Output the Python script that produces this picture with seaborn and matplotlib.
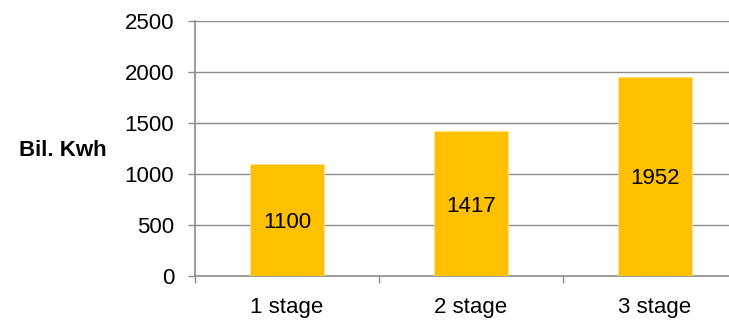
import matplotlib
matplotlib.use("Agg")
import matplotlib.pyplot as plt
import seaborn as sns
import pandas as pd
from matplotlib.ticker import FixedLocator

stages = ["1 stage", "2 stage", "3 stage"]
energy = [1100, 1417, 1952]
y_ticks = [0, 500, 1000, 1500, 2000, 2500]

sns.set_theme(style="white")
plt.rcParams["font.family"] = ["Liberation Sans", "DejaVu Sans"]

df = pd.DataFrame({"stage": stages, "energy": energy})

W, H = 729, 323
fig = plt.figure(figsize=(W / 100, H / 100), dpi=100)
# plot area runs slightly past the right edge of the canvas
left, right, top, bottom = 195, 747, 21, 276
ax = fig.add_axes([left / W, 1 - bottom / H, (right - left) / W, (bottom - top) / H])

grid_col = "#8c8c8c"
fs = 16
sns.barplot(data=df, x="stage", y="energy", color="#FFC000", width=0.4,
            saturation=1, edgecolor="#FFE08A", linewidth=0.6, ax=ax, zorder=3)

ax.set_xlim(-0.5, 2.5)
ax.set_ylim(0, 2500)
ax.set_yticks(y_ticks)
ax.yaxis.grid(True, color=grid_col, linewidth=1.0, zorder=0)
ax.set_axisbelow(True)

for s in ["top", "right"]:
    ax.spines[s].set_visible(False)
for s in ["left", "bottom"]:
    ax.spines[s].set_color(grid_col)
    ax.spines[s].set_linewidth(1.2)

ax.tick_params(axis="y", which="major", length=5, width=1, color=grid_col,
               labelsize=fs, pad=10, labelcolor="black", left=True)
ax.tick_params(axis="x", which="major", length=0, labelsize=fs, pad=15,
               labelcolor="black")
ax.xaxis.set_minor_locator(FixedLocator([-0.5, 0.5, 1.5, 2.5]))
ax.tick_params(axis="x", which="minor", length=5, width=1, color=grid_col,
               bottom=True)

ax.set_xlabel("")
ax.set_ylabel("Bil. Kwh", rotation=0, fontsize=fs, fontweight="bold",
              ha="center", va="center", color="black")
ax.yaxis.set_label_coords(-0.239, 0.494)

for i, v in enumerate(energy):
    ax.text(i, v / 2, f"{v}", ha="center", va="center_baseline", fontsize=fs,
            color="black", zorder=4)

fig.savefig("out.png", dpi=100)
